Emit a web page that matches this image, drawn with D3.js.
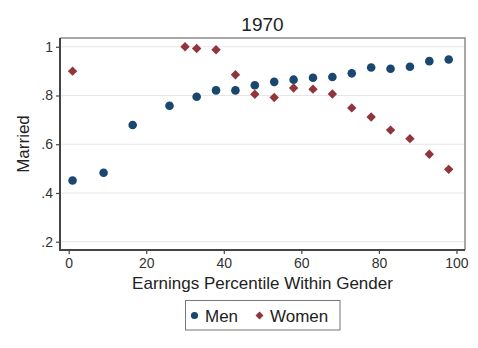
<!DOCTYPE html>
<html>
<head>
<meta charset="utf-8">
<script src="https://cdn.jsdelivr.net/npm/d3@7"></script>
<style>
  body { margin: 0; background: #fff; }
  svg { display: block; font-family: Arial, "Liberation Sans", sans-serif; }
</style>
</head>
<body>
<svg id="chart" width="478" height="348"></svg>
<script>
// Data
const pctMen = [1, 9, 16.5, 26, 33, 38, 43, 48, 53, 58, 63, 68, 73, 78, 83, 88, 93, 98];
const marriedMen = [0.451, 0.483, 0.679, 0.758, 0.795, 0.821, 0.821, 0.842, 0.856, 0.865, 0.873, 0.876, 0.891, 0.915, 0.910, 0.918, 0.941, 0.948];
const pctWomen = [1, 30, 33, 38, 43, 48, 53, 58, 63, 68, 73, 78, 83, 88, 93, 98];
const marriedWomen = [0.900, 1.000, 0.993, 0.988, 0.885, 0.805, 0.792, 0.831, 0.826, 0.806, 0.749, 0.712, 0.658, 0.623, 0.559, 0.497];
const xTicks = [0, 20, 40, 60, 80, 100];
const yTicks = [0.2, 0.4, 0.6, 0.8, 1];
const yTickLabels = ['.2', '.4', '.6', '.8', '1'];
const seriesNames = ['Men', 'Women'];

const menColor = '#1a476f';
const womenColor = '#90353b';

const svg = d3.select('#chart');
const m = {t: 38, r: 13, b: 98, l: 60};
const W = 478, H = 348;

const x = d3.scaleLinear().domain([-2.24, 102.2]).range([m.l, W - m.r]);
const y = d3.scaleLinear().domain([0.166, 1.036]).range([H - m.b, m.t]);

// Gridlines
svg.append('g')
  .selectAll('line')
  .data(yTicks)
  .join('line')
  .attr('x1', m.l).attr('x2', W - m.r)
  .attr('y1', d => y(d)).attr('y2', d => y(d))
  .attr('stroke', '#e6e6e6').attr('stroke-width', 1);

// Frame (top + right)
svg.append('path')
  .attr('d', `M${m.l},${m.t}H${W - m.r}V${H - m.b}`)
  .attr('fill', 'none').attr('stroke', '#8c8c8c').attr('stroke-width', 1.5);

// Axes
const yAxis = svg.append('g')
  .attr('transform', `translate(${m.l},0)`)
  .call(d3.axisLeft(y).tickValues(yTicks).tickFormat((d, i) => yTickLabels[i]).tickSize(4).tickPadding(3));
const xAxis = svg.append('g')
  .attr('transform', `translate(0,${H - m.b})`)
  .call(d3.axisBottom(x).tickValues(xTicks).tickSize(4).tickPadding(4));

[xAxis, yAxis].forEach(a => {
  a.select('.domain').attr('stroke', '#444').attr('stroke-width', 2);
  a.selectAll('.tick line').attr('stroke', '#444').attr('stroke-width', 1.2);
  a.selectAll('.tick text').attr('fill', '#333').style('font-size', '14px').style('font-family', 'Arial, "Liberation Sans", sans-serif');
});
// Extend domain lines to meet at corner
yAxis.select('.domain').attr('d', `M0,${m.t}V${H - m.b + 1}`);
xAxis.select('.domain').attr('d', `M${m.l - 1},0H${W - m.r}`);

// Men markers
svg.append('g')
  .selectAll('circle')
  .data(pctMen.map((p, i) => [p, marriedMen[i]]))
  .join('circle')
  .attr('cx', d => x(d[0])).attr('cy', d => y(d[1]))
  .attr('r', 4.3).attr('fill', menColor);

// Women markers
const diamond = d3.symbol().type(d3.symbolDiamond2).size(56);
svg.append('g')
  .selectAll('path')
  .data(pctWomen.map((p, i) => [p, marriedWomen[i]]))
  .join('path')
  .attr('d', diamond)
  .attr('transform', d => `translate(${x(d[0])},${y(d[1])})`)
  .attr('fill', womenColor);

// Title and axis titles
svg.append('text')
  .attr('x', (m.l + W - m.r) / 2).attr('y', 31)
  .attr('text-anchor', 'middle').attr('fill', '#222')
  .style('font-size', '19px').text('1970');

svg.append('text')
  .attr('x', (m.l + W - m.r) / 2).attr('y', 289)
  .attr('text-anchor', 'middle').attr('fill', '#222')
  .style('font-size', '17px').text('Earnings Percentile Within Gender');

svg.append('text')
  .attr('transform', `translate(29,${(m.t + H - m.b) / 2}) rotate(-90)`)
  .attr('text-anchor', 'middle').attr('fill', '#222')
  .style('font-size', '17px').text('Married');

// Legend
const lg = svg.append('g');
lg.append('rect')
  .attr('x', 185.5).attr('y', 300.5).attr('width', 154.5).attr('height', 29.5)
  .attr('fill', '#fff').attr('stroke', '#777').attr('stroke-width', 1);
lg.append('circle').attr('cx', 194.5).attr('cy', 315.5).attr('r', 3.6).attr('fill', menColor);
lg.append('text').attr('x', 205).attr('y', 321.5).attr('fill', '#222').style('font-size', '17px').text(seriesNames[0]);
lg.append('path')
  .attr('d', d3.symbol().type(d3.symbolDiamond2).size(40))
  .attr('transform', 'translate(259.5,315.5)')
  .attr('fill', womenColor);
lg.append('text').attr('x', 270).attr('y', 321.5).attr('fill', '#222').style('font-size', '17px').text(seriesNames[1]);
</script>
</body>
</html>
